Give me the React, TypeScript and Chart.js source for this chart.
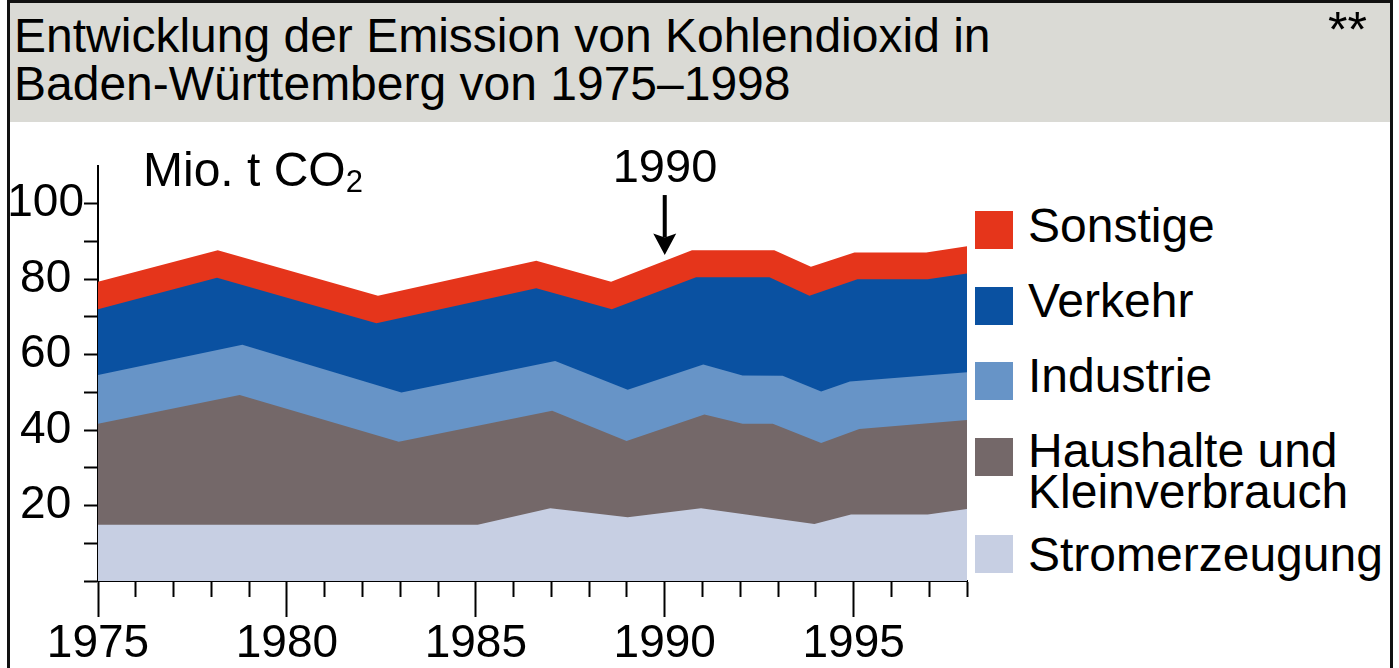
import React, { useEffect, useRef } from "react";
import { Chart, registerables } from "chart.js";

Chart.register(...registerables);

// ---- Data (cumulative upper boundary of each layer, Mio. t CO2) ----
const layerNames = ["Stromerzeugung", "Haushalte und Kleinverbrauch", "Industrie", "Verkehr", "Sonstige"];
const layerColors = ["#c7cfe3", "#746869", "#6794c7", "#0a51a1", "#e5351b"];

const stromYears = [1975, 1985.05, 1986.97, 1989.02, 1990.96, 1993.96, 1994.93, 1996.96, 1998];
const stromTop = [14.9, 14.9, 19.3, 16.9, 19.3, 15.1, 17.6, 17.6, 19.1];

const haushalteYears = [1975, 1978.75, 1982.96, 1987.02, 1988.99, 1991.05, 1992.06, 1992.86, 1994.14, 1995.15, 1998];
const haushalteTop = [41.7, 49.3, 36.9, 45.1, 37.1, 44.1, 41.7, 41.7, 36.6, 40.3, 42.7];

const industrieYears = [1975, 1978.82, 1983.03, 1987.1, 1989.02, 1991.02, 1992.06, 1993.12, 1994.14, 1994.9, 1998];
const industrieTop = [54.6, 62.6, 49.95, 58.3, 50.7, 57.4, 54.5, 54.4, 50.2, 52.9, 55.3];

const verkehrYears = [1975, 1978.15, 1982.37, 1986.6, 1988.6, 1990.83, 1992.77, 1993.83, 1995.1, 1996.96, 1998];
const verkehrTop = [72.0, 80.4, 68.3, 77.6, 72.0, 80.5, 80.5, 75.6, 80.0, 80.0, 81.5];

const sonstigeYears = [1975, 1978.17, 1982.41, 1986.6, 1988.58, 1990.72, 1992.9, 1993.87, 1995.02, 1996.92, 1998];
const sonstigeTop = [79.3, 87.7, 75.6, 84.9, 79.3, 87.7, 87.7, 83.3, 87.1, 87.1, 88.75];

const xMin = 1975;
const xMax = 1998;
const yMin = 0;
const yMax = 110;
const yLabelStep = 20;
const xLabelStep = 5;

const arrowYear = 1990;
const arrowFrom = 102.3;
const arrowHead = 92.1;
const arrowTo = 86.4;

const FONT = '"Liberation Sans", Arial, Helvetica, sans-serif';

const layerYears = [stromYears, haushalteYears, industrieYears, verkehrYears, sonstigeYears];
const layerTops = [stromTop, haushalteTop, industrieTop, verkehrTop, sonstigeTop];

const arrowPlugin = {
  id: "arrow1990",
  afterDatasetsDraw(chart: any) {
    const { ctx, scales } = chart;
    const x = scales.x;
    const y = scales.y;
    const px = x.getPixelForValue(arrowYear);
    const yTop = y.getPixelForValue(arrowFrom);
    const yHead = y.getPixelForValue(arrowHead);
    const yTip = y.getPixelForValue(arrowTo);
    ctx.save();
    ctx.fillStyle = "#000";
    ctx.fillRect(px - 2, yTop, 4, yHead - yTop + 4);
    ctx.beginPath();
    ctx.moveTo(px - 11.5, yHead);
    ctx.lineTo(px, yHead + 4);
    ctx.lineTo(px + 11.5, yHead);
    ctx.lineTo(px, yTip);
    ctx.closePath();
    ctx.fill();
    ctx.restore();
  },
};

function Txt(props: { x: number; base: number; size: number; lh?: number; children: any; style?: any }) {
  const lh = props.lh ?? props.size;
  const top = props.base - ((lh - 1.117 * props.size) / 2 + 0.905 * props.size);
  return (
    <div
      style={{
        position: "absolute",
        left: props.x,
        top,
        fontFamily: FONT,
        fontSize: props.size,
        lineHeight: lh + "px",
        color: "#000",
        whiteSpace: "nowrap",
        ...(props.style || {}),
      }}
    >
      {props.children}
    </div>
  );
}

export default function App() {
  const canvasRef = useRef<HTMLCanvasElement | null>(null);

  useEffect(() => {
    const canvas = canvasRef.current;
    if (!canvas) return;
    const datasets = layerNames.map((name, i) => ({
      label: name,
      data: layerYears[i].map((yr, j) => ({ x: yr, y: layerTops[i][j] })),
      backgroundColor: layerColors[i],
      borderColor: layerColors[i],
      borderWidth: 0,
      pointRadius: 0,
      tension: 0,
      fill: "origin",
    }));
    const chart = new Chart(canvas, {
      type: "line",
      data: { datasets },
      options: {
        responsive: false,
        animation: false,
        devicePixelRatio: 1,
        layout: { padding: { top: 44, right: 8, left: 0, bottom: 0 } },
        plugins: { legend: { display: false }, tooltip: { enabled: false } },
        scales: {
          x: {
            type: "linear",
            min: xMin,
            max: xMax,
            position: "bottom",
            z: 1,
            afterFit: (s: any) => {
              s.height = 87;
            },
            border: { display: true, color: "#000", width: 2 },
            grid: {
              drawOnChartArea: false,
              drawTicks: true,
              tickLength: 36,
              tickWidth: 2,
              tickColor: "#000",
              tickBorderDash: (ctx: any) =>
                ctx.tick && Math.round(ctx.tick.value) % xLabelStep === 0 ? [] : [15, 100],
            },
            ticks: {
              stepSize: 1,
              autoSkip: false,
              maxRotation: 0,
              padding: 0,
              color: "#000",
              font: { family: FONT, size: 46 },
              callback: (v: any) => (Math.round(v) % xLabelStep === 0 ? String(v) : ""),
            },
          },
          y: {
            type: "linear",
            min: yMin,
            max: yMax,
            position: "left",
            z: 1,
            afterFit: (s: any) => {
              s.width = 98;
            },
            border: { display: true, color: "#000", width: 2 },
            grid: {
              drawOnChartArea: false,
              drawTicks: true,
              tickLength: 14,
              tickWidth: 2,
              tickColor: (ctx: any) => (ctx.tick && ctx.tick.value === yMax ? "rgba(0,0,0,0)" : "#000"),
            },
            ticks: {
              stepSize: 10,
              autoSkip: false,
              padding: 0,
              crossAlign: "center",
              color: "#000",
              font: { family: FONT, size: 46 },
              callback: (v: any) => (v > 0 && v <= 100 && v % yLabelStep === 0 ? String(v) : ""),
            },
          },
        },
      },
      plugins: [arrowPlugin],
    } as any);
    return () => chart.destroy();
  }, []);

  const legendItems = [
    { name: "Sonstige", color: layerColors[4], sq: 211, base: 242 },
    { name: "Verkehr", color: layerColors[3], sq: 287, base: 317 },
    { name: "Industrie", color: layerColors[2], sq: 362, base: 392 },
    { name: "Haushalte und\nKleinverbrauch", color: layerColors[1], sq: 438, base: 467 },
    { name: "Stromerzeugung", color: layerColors[0], sq: 535, base: 571 },
  ];

  return (
    <div
      style={{
        position: "fixed",
        left: 0,
        top: 0,
        width: 1399,
        height: 668,
        overflow: "hidden",
        background: "#fff",
      }}
    >
      <div style={{ position: "absolute", left: 7, top: 0, width: 1386, height: 122, background: "#dadad5" }} />
      <canvas
        ref={canvasRef}
        width={975}
        height={546}
        style={{ position: "absolute", left: 0, top: 122, width: 975, height: 546 }}
      />
      <Txt x={14} base={53} size={48}>Entwicklung der Emission von Kohlendioxid in</Txt>
      <Txt x={14} base={101} size={48}>Baden-Württemberg von 1975–1998</Txt>
      <Txt x={1328} base={47} size={50}>**</Txt>
      <Txt x={143} base={187} size={48}>
        Mio. t CO
        <span style={{ fontSize: 31, position: "relative", top: 6, lineHeight: 0 }}>2</span>
      </Txt>
      <Txt x={565} base={182} size={47} style={{ width: 200, textAlign: "center" }}>1990</Txt>
      {legendItems.map((it) => (
        <React.Fragment key={it.name}>
          <div
            style={{ position: "absolute", left: 975, top: it.sq, width: 38, height: 38, background: it.color }}
          />
          <Txt x={1028} base={it.base} size={48} lh={41} style={{ whiteSpace: "pre" }}>
            {it.name}
          </Txt>
        </React.Fragment>
      ))}
      <div
        style={{
          position: "absolute",
          left: 7,
          top: 0,
          width: 1386,
          height: 760,
          border: "3px solid #111",
          boxSizing: "border-box",
          pointerEvents: "none",
        }}
      />
    </div>
  );
}
